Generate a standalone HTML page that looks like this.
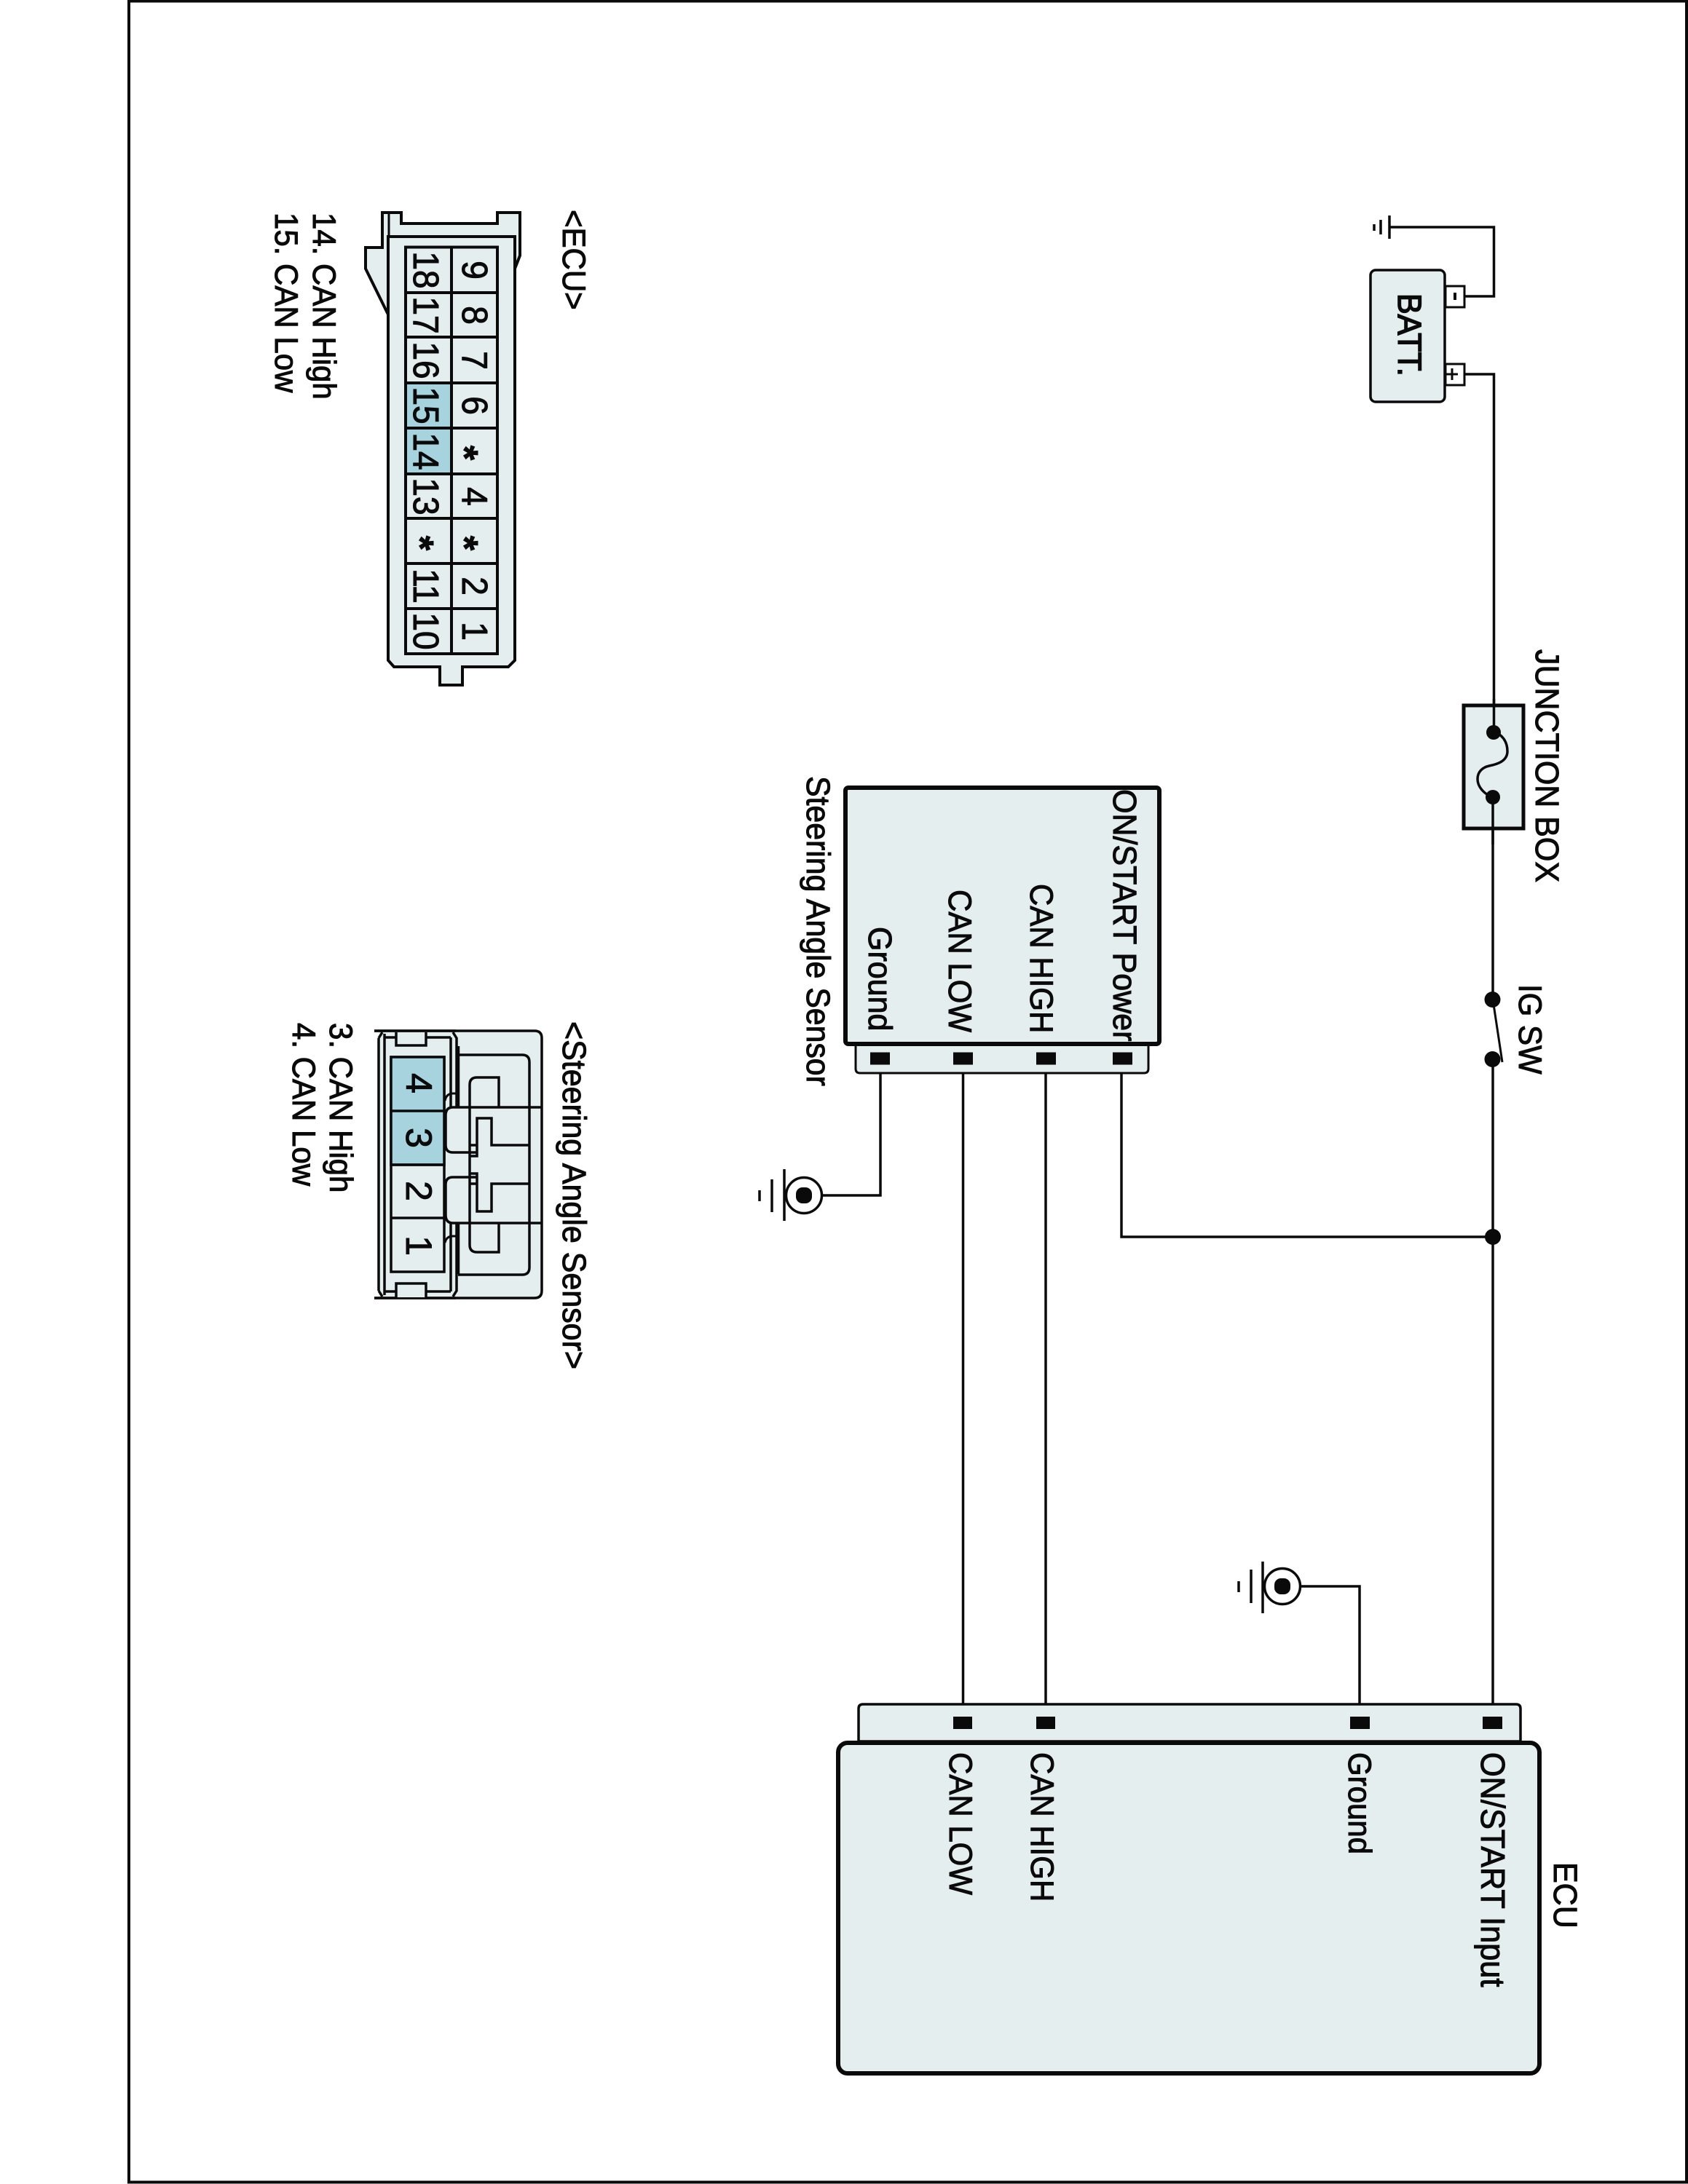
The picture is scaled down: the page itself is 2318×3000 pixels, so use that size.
<!DOCTYPE html>
<html><head><meta charset="utf-8"><style>
html,body{margin:0;padding:0;background:#fff}
svg{display:block}
text{font-family:"Liberation Sans",sans-serif;font-size:43px;fill:#0a0a0a;stroke:#0a0a0a;stroke-width:1px}
text.m{font-size:42px}
text.d{font-size:46px;text-anchor:middle}
text.e{font-size:50px;text-anchor:middle}
text.s{font-size:52px;font-weight:bold;text-anchor:middle}
</style></head><body>
<svg width="2318" height="3000" viewBox="0 0 2318 3000" xmlns="http://www.w3.org/2000/svg">
<rect width="2318" height="3000" fill="#fff"/>
<path d="M177 1.5H2316V2997.5H177Z" fill="none" stroke="#0a0a0a" stroke-width="4"/>

<!-- ECU connector -->
<g stroke="#0a0a0a" stroke-width="4" fill="#e5eeef" stroke-linejoin="miter">
<path d="M525 292H551V307H683V292H714V351L707 369L707 325H533V432L502 369V340H525Z"/>
<path d="M533 325H707V907L698 916H635V941H604V916H541L533 907Z"/>
<rect x="557" y="339.500" width="126" height="558.500"/>
<rect x="557" y="526" width="63" height="125" fill="#a6d3de" stroke="none"/>
<path d="M557 339.500H683V898H557Z" fill="none"/>
<path d="M620 339V898M557 402H683M557 463H683M557 526H683M557 588H683M557 651H683M557 712H683M557 774H683M557 836H683" fill="none"/>
<path d="M534 325V292" fill="none" stroke-width="3"/>
</g>
<text class="d" transform="translate(635,371) rotate(90) scale(1,1.06)">9</text>
<text class="d" transform="translate(635,433) rotate(90) scale(1,1.06)">8</text>
<text class="d" transform="translate(635,495) rotate(90) scale(1,1.06)">7</text>
<text class="d" transform="translate(635,557) rotate(90) scale(1,1.06)">6</text>
<text class="s" transform="translate(620,622) rotate(90)">*</text>
<text class="d" transform="translate(635,682) rotate(90) scale(1,1.06)">4</text>
<text class="s" transform="translate(620,746) rotate(90)">*</text>
<text class="d" transform="translate(635,805) rotate(90) scale(1,1.06)">2</text>
<text class="d" transform="translate(635,867) rotate(90) scale(1,1.06)">1</text>
<text class="d" transform="translate(568,371) rotate(90) scale(1,1.06)">18</text>
<text class="d" transform="translate(568,433) rotate(90) scale(1,1.06)">17</text>
<text class="d" transform="translate(568,495) rotate(90) scale(1,1.06)">16</text>
<text class="d" transform="translate(568,557) rotate(90) scale(1,1.06)">15</text>
<text class="d" transform="translate(568,620) rotate(90) scale(1,1.06)">14</text>
<text class="d" transform="translate(568,682) rotate(90) scale(1,1.06)">13</text>
<text class="s" transform="translate(559,746) rotate(90)">*</text>
<text class="d" transform="translate(568,805) rotate(90) scale(1,1.06)">11</text>
<text class="d" transform="translate(568,867) rotate(90) scale(1,1.06)">10</text>
<text class="m" transform="translate(773,288) rotate(90) scale(1,1.06)">&lt;ECU&gt;</text>
<text class="m" transform="translate(430,292) rotate(90) scale(1,1.06)">14. CAN High</text>
<text class="m" transform="translate(378,292) rotate(90) scale(1,1.06)">15. CAN Low</text>

<!-- Steering connector -->
<path d="M514 1416H734Q744 1416 744 1426V1773Q744 1783 734 1783H514Z" fill="#e5eeef" stroke="none"/>
<rect x="505" y="1410" width="15" height="380" fill="#fff"/>
<path d="M514 1416H734Q744 1416 744 1426V1773Q744 1783 734 1783H514" fill="none" stroke="#0a0a0a" stroke-width="3.500"/>
<g stroke="#0a0a0a" stroke-width="3.500" fill="none">
<path d="M514 1416H626M514 1783H626"/>
<path d="M520 1426L525 1418M520 1773L525 1781M520 1426V1773M528 1420V1779"/>
<path d="M622 1418L627 1426V1521M627 1680V1773L622 1781"/>
<path d="M619 1425V1521M619 1680V1774M528 1425H619M528 1774H619"/>
<path d="M544 1418V1436H585V1418" fill="#e5eeef"/>
<path d="M544 1782V1763H585V1782" fill="#e5eeef"/>
<rect x="537" y="1452" width="73" height="295" fill="#e5eeef"/>
<rect x="537" y="1452" width="73" height="148" fill="#a6d3de"/>
<path d="M537 1526H610M537 1600H610M537 1673H610"/>
<path d="M629 1437V1521M629 1680V1750" stroke-width="4.500"/>
<path d="M629 1449H717Q727 1449 727 1459V1741Q727 1751 717 1751H629"/>
<path d="M612 1532Q612 1521 622 1521H744M612 1669Q612 1680 622 1680H744"/>
<path d="M612 1532V1573Q612 1583 622 1583H655M612 1669V1627Q612 1617 622 1617H655"/>
<path d="M685 1521V1480H655Q645 1480 645 1490V1710Q645 1720 655 1720H685V1680"/>
<path d="M645 1573H655V1536H675V1573H727M655 1573V1588H645M645 1626H655V1664H675V1626H727M655 1626V1612H645"/>
<path d="M611 1512Q613 1502 622 1502H630M611 1707Q613 1698 622 1698H630" stroke-width="3"/>
</g>
<text class="e" transform="translate(558,1488) rotate(90)">4</text>
<text class="e" transform="translate(558,1563) rotate(90)">3</text>
<text class="e" transform="translate(558,1636) rotate(90)">2</text>
<text class="e" transform="translate(558,1711) rotate(90)">1</text>
<text transform="translate(773,1403) rotate(90) scale(1,1.06)">&lt;Steering Angle Sensor&gt;</text>
<text class="m" transform="translate(453,1405) rotate(90) scale(1,1.06)">3. CAN High</text>
<text class="m" transform="translate(402,1405) rotate(90) scale(1,1.06)">4. CAN Low</text>

<!-- Wires -->
<g fill="none" stroke="#0a0a0a" stroke-width="3.500">
<path d="M1908 312H2051.500V407H2011"/>
<path d="M2011 514H2051.500V1006"/>
<path d="M2050 1095V1373"/>
<path d="M2050 1455V2366"/>
<path d="M1209 1454V1642H1129"/>
<path d="M1322.500 1454V2366"/>
<path d="M1436 1454V2366"/>
<path d="M1540 1454V1699H2050"/>
<path d="M1786 2179H1867V2366"/>
<path d="M2050 1373L2063 1459" stroke-width="3"/>
</g>

<!-- Battery -->
<rect x="1882" y="371" width="102" height="181" rx="7" fill="#e5eeef" stroke="#0a0a0a" stroke-width="3.5"/>
<rect x="1985" y="393" width="26" height="29" fill="#fff" stroke="#0a0a0a" stroke-width="3"/>
<rect x="1985" y="500" width="26" height="29" fill="#fff" stroke="#0a0a0a" stroke-width="3"/>
<rect x="1996" y="402" width="4" height="10" fill="#0a0a0a"/>
<path d="M1994 506V522M1986 514H2002" stroke="#0a0a0a" stroke-width="3"/>
<text transform="translate(1920,403) rotate(90) scale(1,1.06)" style="stroke-width:1.5px">BATT.</text>
<path d="M1908 296V328M1896 302V322M1887 308V317" stroke="#0a0a0a" stroke-width="3.500" fill="none"/>

<!-- Junction box -->
<rect x="2010" y="969" width="82" height="169" fill="#e5eeef" stroke="#0a0a0a" stroke-width="5"/>
<path d="M2051.500 960V1006C2062 1008 2070 1018 2070 1032C2070 1046 2055 1050 2045 1052C2036 1054 2029 1060 2029 1070C2029 1082 2040 1092 2050 1095V1160" fill="none" stroke="#0a0a0a" stroke-width="3.500"/>
<ellipse cx="2051" cy="1006" rx="10" ry="10" fill="#0a0a0a"/>
<ellipse cx="2050" cy="1095" rx="10" ry="10" fill="#0a0a0a"/>
<text transform="translate(2109,892) rotate(90) scale(1,1.06)">JUNCTION BOX</text>
<circle cx="2049.500" cy="1373" r="11" fill="#0a0a0a"/>
<circle cx="2049.500" cy="1455" r="11" fill="#0a0a0a"/>
<circle cx="2050" cy="1699" r="11" fill="#0a0a0a"/>
<text class="m" transform="translate(2086,1352) rotate(90) scale(1,1.06)">IG SW</text>

<!-- Steering Angle Sensor box -->
<path d="M1175 1435V1468Q1175 1474 1181 1474H1571Q1577 1474 1577 1468V1435Z" fill="#e5eeef" stroke="#0a0a0a" stroke-width="3"/>
<rect x="1161" y="1082" width="431" height="352" rx="4" fill="#e5eeef" stroke="#0a0a0a" stroke-width="6"/>
<rect x="1195" y="1445.500" width="27" height="17" fill="#0a0a0a"/>
<rect x="1309" y="1445.500" width="27" height="17" fill="#0a0a0a"/>
<rect x="1423" y="1445.500" width="27" height="17" fill="#0a0a0a"/>
<rect x="1528" y="1445.500" width="27" height="17" fill="#0a0a0a"/>
<text class="m" transform="translate(1108,1066) rotate(90) scale(1,1.06)" style="font-size:42.800px">Steering Angle Sensor</text>
<text transform="translate(1193,1273) rotate(90) scale(1,1.06)">Ground</text>
<text class="m" transform="translate(1303,1222) rotate(90) scale(1,1.06)">CAN LOW</text>
<text class="m" transform="translate(1415,1214) rotate(90) scale(1,1.06)">CAN HIGH</text>
<text transform="translate(1529,1084) rotate(90) scale(1,1.06)">ON/START Power</text>

<!-- Ground 1 -->
<g fill="none" stroke="#0a0a0a">
<circle cx="1104" cy="1642" r="24.500" stroke-width="3.500" fill="#fff"/>
<path d="M1077 1606V1677M1060 1620V1665M1043 1635V1650" stroke-width="3.500"/>
</g>
<rect x="1093" y="1631" width="22" height="22" rx="9" fill="#0a0a0a"/>

<!-- Ground 2 -->
<g fill="none" stroke="#0a0a0a">
<circle cx="1761" cy="2179" r="24.500" stroke-width="3.500" fill="#fff"/>
<path d="M1734 2145V2216M1718 2156V2202M1701 2172V2187" stroke-width="3.500"/>
</g>
<rect x="1750" y="2168" width="22" height="22" rx="9" fill="#0a0a0a"/>

<!-- ECU box -->
<path d="M1179 2392V2347Q1179 2341 1185 2341H2082Q2088 2341 2088 2347V2392Z" fill="#e5eeef" stroke="#0a0a0a" stroke-width="3.500"/>
<rect x="1151" y="2394" width="963" height="454" rx="13" fill="#e5eeef" stroke="#0a0a0a" stroke-width="6"/>
<rect x="1309" y="2358" width="26" height="17" fill="#0a0a0a"/>
<rect x="1423" y="2358" width="26" height="17" fill="#0a0a0a"/>
<rect x="1854" y="2358" width="27" height="17" fill="#0a0a0a"/>
<rect x="2036" y="2358" width="27" height="17" fill="#0a0a0a"/>
<text transform="translate(2134,2558) rotate(90) scale(1,1.06)">ECU</text>
<text transform="translate(2034,2407) rotate(90) scale(1,1.06)" style="font-size:43.300px">ON/START Input</text>
<text class="m" transform="translate(1852,2407) rotate(90) scale(1,1.06)">Ground</text>
<text class="m" transform="translate(1416,2407) rotate(90) scale(1,1.06)">CAN HIGH</text>
<text class="m" transform="translate(1304,2407) rotate(90) scale(1,1.06)">CAN LOW</text>
</svg>
</body></html>
